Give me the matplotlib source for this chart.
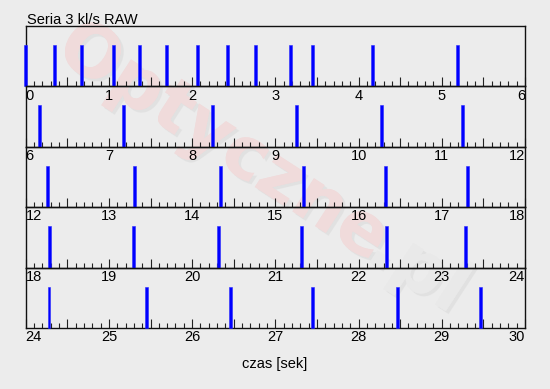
import numpy as np
import matplotlib.pyplot as plt
import matplotlib.patheffects as pe

# event times [s]
event_times = [0.0, 0.35, 0.67, 1.06, 1.37, 1.69, 2.06, 2.42, 2.76, 3.18, 3.45, 4.17, 5.19,
               6.17, 7.17, 8.25, 9.26, 10.28, 11.25,
               12.26, 13.31, 14.34, 15.34, 16.32, 17.31,
               18.29, 19.29, 20.32, 21.32, 22.33, 23.29,
               24.28, 25.45, 26.46, 27.45, 28.47, 29.47]
panel_starts = [0, 6, 12, 18, 24]
panel_len = 6
title = "Seria 3 kl/s RAW"
xlabel = "czas [sek]"

BG = "#ececec"
plt.rcParams["font.family"] = ["Liberation Sans", "DejaVu Sans"]

W, H = 550, 389
fig = plt.figure(figsize=(W / 100, H / 100), dpi=100, facecolor=BG)

left_px, right_px = 25.7, 525.0
top_px = 26.0
panel_h = 60.46

# watermark
shadow = [pe.withSimplePatchShadow(offset=(2, -2), shadow_rgbFace="#d8d8d8", alpha=0.5),
          pe.Normal()]
fig.text(223 / W, 1 - 143 / H, "Optyczne", fontsize=52, fontweight="bold",
         family="DejaVu Sans", color="#f0dbdb", rotation=-33, ha="center",
         va="center", zorder=-5, path_effects=shadow)
fig.text(418 / W, 1 - 270 / H, ".pl", fontsize=52, fontweight="bold",
         family="DejaVu Sans", color="#e9e9e9", rotation=-33, ha="center",
         va="center", zorder=-5, path_effects=shadow)

times = np.array(event_times)
for i, t0 in enumerate(panel_starts):
    bottom_px = top_px + panel_h * (i + 1)
    ax = fig.add_axes([left_px / W, 1 - bottom_px / H,
                       (right_px - left_px) / W, panel_h / H])
    ax.set_facecolor("none")
    t1 = t0 + panel_len
    sel = times[(times >= t0 - 0.05) & (times < t1)]
    ax.bar(sel, np.ones(len(sel)), width=0.036, color="#0000ff",
           edgecolor="#2a2aff", linewidth=0.4, clip_on=False, zorder=3)
    ax.set_xlim(t0, t1)
    ax.set_ylim(0, 1.45)
    major = np.arange(t0, t1 + 0.01, 0.5)
    labels = [str(int(round(m))) if abs(m - round(m)) < 1e-6 else "" for m in major]
    ax.set_xticks(major, labels=labels)
    ax.set_xticks(np.arange(t0, t1 + 0.01, 0.1), minor=True)
    ax.set_yticks([])
    ax.tick_params(axis="x", which="major", direction="in", length=6.5, width=0.8,
                   pad=1.5, labelsize=10.5, color="#222222")
    ax.tick_params(axis="x", which="minor", direction="in", length=3.6, width=0.8,
                   color="#222222")
    tl = ax.get_xticklabels()
    tl[0].set_ha("left")
    tl[-1].set_ha("right")
    for s in ax.spines.values():
        s.set_linewidth(1.0)
        s.set_color("#111111")

fig.text(27 / W, 1 - 24 / H, title, fontsize=10.5, ha="left", va="baseline")
fig.text(275 / W, 1 - 368 / H, xlabel, fontsize=10.5, ha="center", va="baseline")

fig.savefig("out.png", dpi=100, facecolor=BG)
